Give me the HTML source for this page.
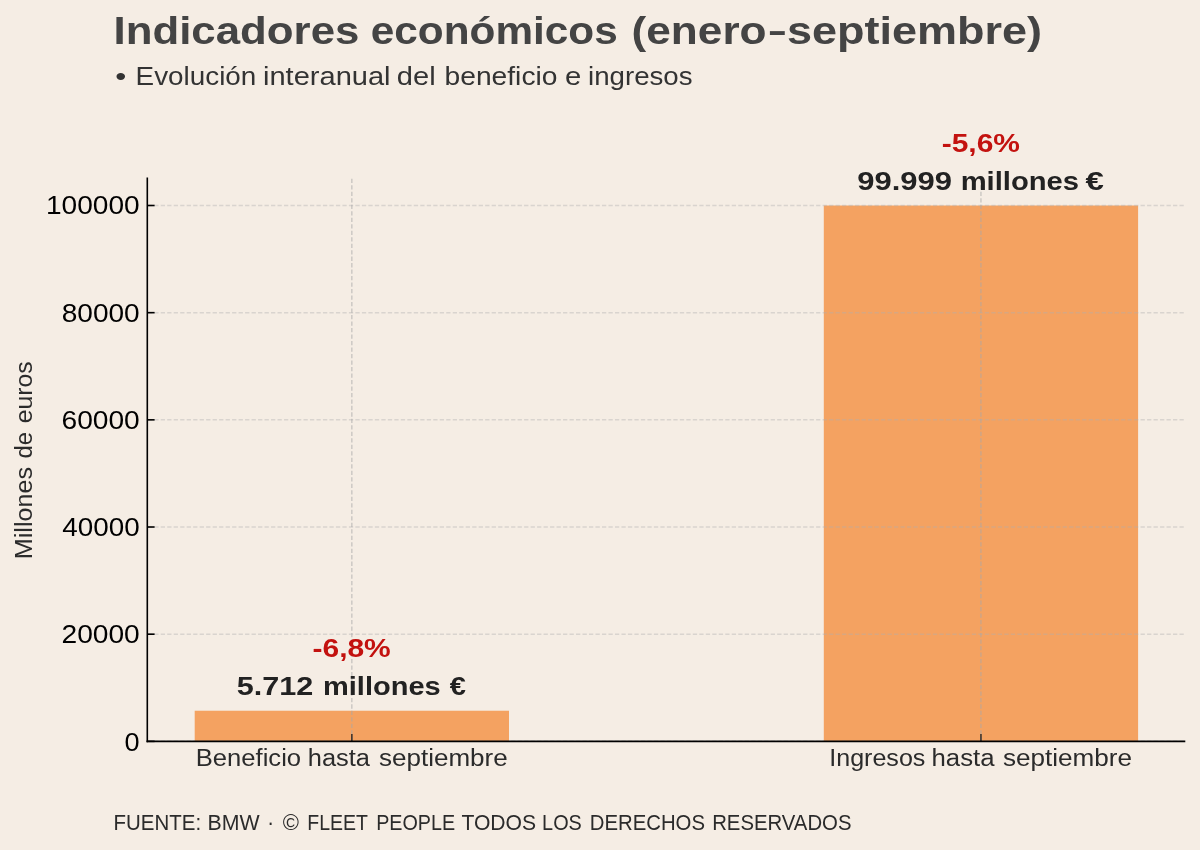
<!DOCTYPE html>
<html><head><meta charset="utf-8"><title>Indicadores económicos</title><style>html,body{margin:0;padding:0;background:#f5ede4;width:1200px;height:850px;overflow:hidden}svg{display:block;will-change:transform}text{font-family:"Liberation Sans",sans-serif}</style></head>
<body><svg width="1200" height="850" viewBox="0 0 1200 850"><rect width="1200" height="850" fill="#f5ede4"/>
<rect x="194.70" y="710.74" width="314.3" height="30.61" fill="#f4a261"/>
<rect x="823.80" y="205.51" width="314.3" height="535.84" fill="#f4a261"/>
<g stroke="#b0b0b0" stroke-opacity="0.40" stroke-width="1.5" stroke-dasharray="4.27 2.219" stroke-dashoffset="-0.45"><line x1="147.3" y1="741.35" x2="1185.3" y2="741.35"/><line x1="147.3" y1="634.18" x2="1185.3" y2="634.18"/><line x1="147.3" y1="527.01" x2="1185.3" y2="527.01"/><line x1="147.3" y1="419.84" x2="1185.3" y2="419.84"/><line x1="147.3" y1="312.67" x2="1185.3" y2="312.67"/><line x1="147.3" y1="205.50" x2="1185.3" y2="205.50"/></g>
<g stroke="#a8a8a8" stroke-opacity="0.65" stroke-width="1.2" stroke-dasharray="4.27 2.219" stroke-dashoffset="-0.27"><line x1="351.85" y1="741.35" x2="351.85" y2="177.6"/><line x1="980.95" y1="741.35" x2="980.95" y2="177.6"/></g>
<g stroke="#000" stroke-width="1.6"><line x1="147.3" y1="741.35" x2="154.60" y2="741.35"/><line x1="147.3" y1="634.18" x2="154.60" y2="634.18"/><line x1="147.3" y1="527.01" x2="154.60" y2="527.01"/><line x1="147.3" y1="419.84" x2="154.60" y2="419.84"/><line x1="147.3" y1="312.67" x2="154.60" y2="312.67"/><line x1="147.3" y1="205.50" x2="154.60" y2="205.50"/></g>
<g stroke="#3d342e" stroke-width="1.6"><line x1="351.85" y1="741.35" x2="351.85" y2="734.05"/><line x1="980.95" y1="741.35" x2="980.95" y2="734.05"/></g>
<g stroke="#000" stroke-width="1.6"><line x1="147.3" y1="177.6" x2="147.3" y2="742.15"/><line x1="146.5" y1="741.35" x2="1185.3" y2="741.35"/></g>
<g font-family="Liberation Sans, sans-serif">
<text x="113.53" y="44.20" font-size="38.84" font-weight="bold" fill="#444444" textLength="245.84" lengthAdjust="spacingAndGlyphs">Indicadores</text>
<text x="370.81" y="44.20" font-size="38.84" font-weight="bold" fill="#444444" textLength="246.92" lengthAdjust="spacingAndGlyphs">económicos</text>
<text x="631.54" y="44.20" font-size="38.84" font-weight="bold" fill="#444444" textLength="135.06" lengthAdjust="spacingAndGlyphs">(enero</text>
<text x="769.10" y="44.20" font-size="38.84" font-weight="bold" fill="#444444" textLength="16.69" lengthAdjust="spacingAndGlyphs">–</text>
<text x="786.95" y="44.20" font-size="38.84" font-weight="bold" fill="#444444" textLength="255.04" lengthAdjust="spacingAndGlyphs">septiembre)</text>
<text x="115.24" y="84.70" font-size="25.75" font-weight="normal" fill="#333333" textLength="11.02" lengthAdjust="spacingAndGlyphs">•</text>
<text x="135.57" y="84.70" font-size="25.75" font-weight="normal" fill="#333333" textLength="120.76" lengthAdjust="spacingAndGlyphs">Evolución</text>
<text x="262.97" y="84.70" font-size="25.75" font-weight="normal" fill="#333333" textLength="127.59" lengthAdjust="spacingAndGlyphs">interanual</text>
<text x="396.84" y="84.70" font-size="25.75" font-weight="normal" fill="#333333" textLength="38.79" lengthAdjust="spacingAndGlyphs">del</text>
<text x="444.56" y="84.70" font-size="25.75" font-weight="normal" fill="#333333" textLength="112.90" lengthAdjust="spacingAndGlyphs">beneficio</text>
<text x="565.08" y="84.70" font-size="25.75" font-weight="normal" fill="#333333" textLength="16.27" lengthAdjust="spacingAndGlyphs">e</text>
<text x="588.06" y="84.70" font-size="25.75" font-weight="normal" fill="#333333" textLength="104.54" lengthAdjust="spacingAndGlyphs">ingresos</text>
<text x="113.56" y="829.70" font-size="21.38" font-weight="normal" fill="#2b2b2b" textLength="87.54" lengthAdjust="spacingAndGlyphs">FUENTE:</text>
<text x="207.49" y="829.70" font-size="21.38" font-weight="normal" fill="#2b2b2b" textLength="52.09" lengthAdjust="spacingAndGlyphs">BMW</text>
<text x="267.35" y="829.70" font-size="21.38" font-weight="normal" fill="#2b2b2b" textLength="6.77" lengthAdjust="spacingAndGlyphs">·</text>
<text x="282.68" y="829.70" font-size="21.38" font-weight="normal" fill="#2b2b2b" textLength="16.19" lengthAdjust="spacingAndGlyphs">©</text>
<text x="307.34" y="829.70" font-size="21.38" font-weight="normal" fill="#2b2b2b" textLength="60.69" lengthAdjust="spacingAndGlyphs">FLEET</text>
<text x="376.22" y="829.70" font-size="21.38" font-weight="normal" fill="#2b2b2b" textLength="78.91" lengthAdjust="spacingAndGlyphs">PEOPLE</text>
<text x="461.38" y="829.70" font-size="21.38" font-weight="normal" fill="#2b2b2b" textLength="74.73" lengthAdjust="spacingAndGlyphs">TODOS</text>
<text x="542.11" y="829.70" font-size="21.38" font-weight="normal" fill="#2b2b2b" textLength="39.70" lengthAdjust="spacingAndGlyphs">LOS</text>
<text x="589.77" y="829.70" font-size="21.38" font-weight="normal" fill="#2b2b2b" textLength="115.19" lengthAdjust="spacingAndGlyphs">DERECHOS</text>
<text x="712.17" y="829.70" font-size="21.38" font-weight="normal" fill="#2b2b2b" textLength="139.32" lengthAdjust="spacingAndGlyphs">RESERVADOS</text>
<text x="236.78" y="694.60" font-size="25.16" font-weight="bold" fill="#222222" textLength="76.52" lengthAdjust="spacingAndGlyphs">5.712</text>
<text x="322.97" y="694.60" font-size="25.16" font-weight="bold" fill="#222222" textLength="117.70" lengthAdjust="spacingAndGlyphs">millones</text>
<text x="449.71" y="694.60" font-size="25.16" font-weight="bold" fill="#222222" textLength="16.16" lengthAdjust="spacingAndGlyphs">€</text>
<text x="857.17" y="190.20" font-size="25.89" font-weight="bold" fill="#222222" textLength="94.83" lengthAdjust="spacingAndGlyphs">99.999</text>
<text x="960.66" y="190.20" font-size="25.89" font-weight="bold" fill="#222222" textLength="118.42" lengthAdjust="spacingAndGlyphs">millones</text>
<text x="1085.47" y="190.20" font-size="25.89" font-weight="bold" fill="#222222" textLength="18.37" lengthAdjust="spacingAndGlyphs">€</text>
<text x="312.50" y="657.30" font-size="25.31" font-weight="bold" fill="#c3120f" textLength="78.27" lengthAdjust="spacingAndGlyphs">-6,8%</text>
<text x="941.70" y="151.90" font-size="25.31" font-weight="bold" fill="#c3120f" textLength="78.27" lengthAdjust="spacingAndGlyphs">-5,6%</text>
<text x="195.75" y="765.75" font-size="23.27" font-weight="normal" fill="#2b2b2b" textLength="105.37" lengthAdjust="spacingAndGlyphs">Beneficio</text>
<text x="307.82" y="765.75" font-size="23.27" font-weight="normal" fill="#2b2b2b" textLength="62.19" lengthAdjust="spacingAndGlyphs">hasta</text>
<text x="379.02" y="765.75" font-size="23.27" font-weight="normal" fill="#2b2b2b" textLength="128.70" lengthAdjust="spacingAndGlyphs">septiembre</text>
<text x="829.24" y="765.75" font-size="23.27" font-weight="normal" fill="#2b2b2b" textLength="96.15" lengthAdjust="spacingAndGlyphs">Ingresos</text>
<text x="931.50" y="765.75" font-size="23.27" font-weight="normal" fill="#2b2b2b" textLength="63.01" lengthAdjust="spacingAndGlyphs">hasta</text>
<text x="1002.92" y="765.75" font-size="23.27" font-weight="normal" fill="#2b2b2b" textLength="129.11" lengthAdjust="spacingAndGlyphs">septiembre</text>
<text x="-559.21" y="32.10" font-size="23.56" font-weight="normal" fill="#2b2b2b" textLength="92.16" lengthAdjust="spacingAndGlyphs" transform="rotate(-90)">Millones</text>
<text x="-458.56" y="32.10" font-size="23.56" font-weight="normal" fill="#2b2b2b" textLength="26.57" lengthAdjust="spacingAndGlyphs" transform="rotate(-90)">de</text>
<text x="-423.29" y="32.10" font-size="23.56" font-weight="normal" fill="#2b2b2b" textLength="61.97" lengthAdjust="spacingAndGlyphs" transform="rotate(-90)">euros</text>
<text x="124.52" y="750.80" font-size="25.09" font-weight="normal" fill="#000000" textLength="15.07" lengthAdjust="spacingAndGlyphs">0</text>
<text x="61.49" y="643.03" font-size="25.09" font-weight="normal" fill="#000000" textLength="78.25" lengthAdjust="spacingAndGlyphs">20000</text>
<text x="62.34" y="535.86" font-size="25.09" font-weight="normal" fill="#000000" textLength="77.39" lengthAdjust="spacingAndGlyphs">40000</text>
<text x="61.49" y="428.69" font-size="25.09" font-weight="normal" fill="#000000" textLength="78.25" lengthAdjust="spacingAndGlyphs">60000</text>
<text x="61.78" y="321.52" font-size="25.09" font-weight="normal" fill="#000000" textLength="77.96" lengthAdjust="spacingAndGlyphs">80000</text>
<text x="46.01" y="214.35" font-size="25.09" font-weight="normal" fill="#000000" textLength="93.63" lengthAdjust="spacingAndGlyphs">100000</text>
</g></svg></body></html>
